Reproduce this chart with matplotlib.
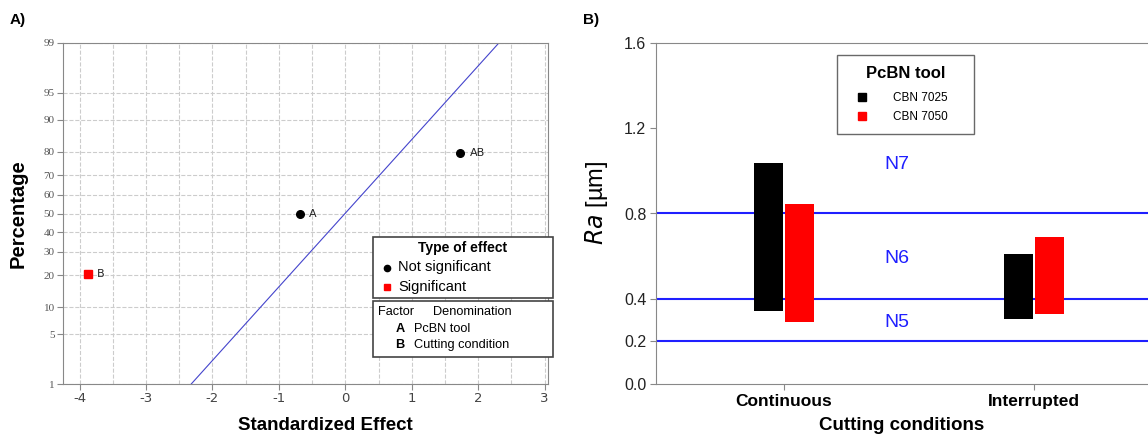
import numpy as np
from statistics import NormalDist
from matplotlib import pyplot as plt
from matplotlib.lines import Line2D
from matplotlib.patches import Rectangle

# ---- panel A data (normal probability plot of effects)
effect_names = ["B", "A", "AB"]
effect_values = [-3.88, -0.69, 1.73]
effect_pct = [20.6, 50.0, 79.4]
effect_significant = [True, False, False]
fit_x = [-2.32, 2.31]
fit_pct = [1, 99]
pct_ticks = [1, 5, 10, 20, 30, 40, 50, 60, 70, 80, 90, 95, 99]
x_ticks_a = [-4, -3, -2, -1, 0, 1, 2, 3]

# ---- panel B data (Ra range per cutting condition)
conditions = ["Continuous", "Interrupted"]
tools = ["CBN 7025", "CBN 7050"]
ra_min = {"CBN 7025": [0.343, 0.305], "CBN 7050": [0.289, 0.329]}
ra_max = {"CBN 7025": [1.036, 0.609], "CBN 7050": [0.846, 0.689]}
tool_colors = {"CBN 7025": "black", "CBN 7050": "#ff0000"}
ra_limits = [0.2, 0.4, 0.8]
class_names = ["N5", "N6", "N7"]
class_y = [0.29, 0.59, 1.03]
ra_ticks = [0.0, 0.2, 0.4, 0.8, 1.2, 1.6]

nd = NormalDist()
_inv = np.vectorize(nd.inv_cdf, otypes=[float])
_cdf = np.vectorize(nd.cdf, otypes=[float])


def pct_to_z(p):
    p = np.clip(np.asarray(p, dtype=float), 1e-9, 100 - 1e-9)
    return _inv(p / 100.0)


def z_to_pct(z):
    return _cdf(np.asarray(z, dtype=float)) * 100.0


fig = plt.figure(figsize=(11.48, 4.36), dpi=100)
W, H = 1148, 436


def fx(px):
    return px / W


def fy(py):
    return 1 - py / H


# ================= panel A
axA = fig.add_axes([fx(63), fy(384), fx(548) - fx(63), fy(43) - fy(384)])
axA.set_yscale("function", functions=(pct_to_z, z_to_pct))
axA.set_ylim(1, 99)
axA.set_xlim(-4.25, 3.05)

axA.set_xticks(np.arange(-4, 3.01, 0.5), minor=True)
axA.set_xticks(x_ticks_a)
axA.set_xticklabels([str(v) for v in x_ticks_a], fontsize=9.5, color="#444444",
                    family="DejaVu Sans")
axA.set_yticks(pct_ticks)
axA.set_yticklabels([str(v) for v in pct_ticks], fontsize=8, color="#555555",
                    family="Liberation Serif")
axA.yaxis.set_minor_locator(plt.NullLocator())
axA.tick_params(axis="both", which="major", length=4, color="#888888", pad=2)
axA.tick_params(axis="x", which="minor", length=0)
axA.grid(True, which="both", axis="x", linestyle="--", color="#cccccc", lw=0.8)
axA.grid(True, which="major", axis="y", linestyle="--", color="#cccccc", lw=0.8)
axA.set_axisbelow(True)
for s in axA.spines.values():
    s.set_color("#888888")

axA.plot(fit_x, fit_pct, color="#4444cc", lw=0.8)
for name, xv, pv, sig in zip(effect_names, effect_values, effect_pct, effect_significant):
    if sig:
        axA.plot(xv, pv, "s", color="#ff0000", ms=6)
    else:
        axA.plot(xv, pv, "o", color="black", ms=5.5)
    axA.annotate(name, (xv, pv), xytext=(7, 0), textcoords="offset points",
                 va="center", ha="left", fontsize=8, color="#222222")

axA.set_xlabel("Standardized Effect", fontsize=13.5, fontweight="bold",
               family="Liberation Sans")
axA.xaxis.set_label_coords(0.54, -0.098)
axA.set_ylabel("Percentage", fontsize=14.5, fontweight="bold", family="Liberation Sans")
axA.yaxis.set_label_coords(-0.072, 0.5)

# legend boxes of panel A
fig.patches.append(Rectangle((fx(373), fy(298)), fx(553) - fx(373), fy(237) - fy(298),
                             transform=fig.transFigure, fill=True, facecolor="white",
                             edgecolor="#444444", lw=1.2))
fig.patches.append(Rectangle((fx(373), fy(357)), fx(553) - fx(373), fy(301) - fy(357),
                             transform=fig.transFigure, fill=True, facecolor="white",
                             edgecolor="#444444", lw=1.2))
fig.text(fx(463), fy(248), "Type of effect", ha="center", va="center",
         fontsize=10, fontweight="bold", family="Liberation Sans")
fig.add_artist(Line2D([fx(387)], [fy(268)], marker="o", color="black", ms=4.5,
                      transform=fig.transFigure))
fig.text(fx(398), fy(267), "Not significant", ha="left", va="center",
         fontsize=10.5, family="Liberation Sans")
fig.add_artist(Line2D([fx(387)], [fy(287)], marker="s", color="#ff0000", ms=5,
                      transform=fig.transFigure))
fig.text(fx(398), fy(287), "Significant", ha="left", va="center",
         fontsize=10.5, family="Liberation Sans")
fig.text(fx(378), fy(312), "Factor", ha="left", va="center", fontsize=9.2,
         family="Liberation Sans")
fig.text(fx(433), fy(312), "Denomination", ha="left", va="center", fontsize=9.2,
         family="Liberation Sans")
fig.text(fx(400), fy(329), "A", ha="center", va="center", fontsize=9.2,
         fontweight="bold", family="Liberation Sans")
fig.text(fx(414), fy(329), "PcBN tool", ha="left", va="center", fontsize=9.2,
         family="Liberation Sans")
fig.text(fx(400), fy(345), "B", ha="center", va="center", fontsize=9.2,
         fontweight="bold", family="Liberation Sans")
fig.text(fx(414), fy(345), "Cutting condition", ha="left", va="center", fontsize=9.2,
         family="Liberation Sans")

fig.text(fx(10), fy(20), "A)", ha="left", va="center", fontsize=11, fontweight="bold",
         family="Liberation Sans")

# ================= panel B
axB = fig.add_axes([fx(656), fy(384), 1 - fx(656), fy(43) - fy(384)])
pos = np.arange(len(conditions))
bar_w = 0.115
offsets = {"CBN 7025": -0.062, "CBN 7050": 0.062}
for t in tools:
    lo = np.array(ra_min[t])
    hi = np.array(ra_max[t])
    axB.bar(pos + offsets[t], hi - lo, bottom=lo, width=bar_w,
            color=tool_colors[t], zorder=3, label=t)

for yv in ra_limits:
    axB.axhline(yv, color="#1f1fff", lw=1.5, zorder=2)
for nm, yv in zip(class_names, class_y):
    axB.text(0.45, yv, nm, color="#1f1fff", fontsize=14, ha="center", va="center",
             family="Liberation Sans")

axB.set_ylim(0, 1.6)
axB.set_xlim(-0.512, 1.456)
axB.set_yticks(ra_ticks)
axB.set_yticklabels([f"{v:.1f}" for v in ra_ticks], fontsize=11.5, color="#222222",
                    family="Liberation Sans")
axB.set_xticks(pos)
axB.set_xticklabels(conditions, fontsize=12.5, fontweight="bold", family="Liberation Sans")
axB.tick_params(axis="both", length=4, color="#888888", pad=3)
axB.spines["right"].set_visible(False)
for s in ["left", "bottom", "top"]:
    axB.spines[s].set_color("#888888")
axB.set_xlabel("Cutting conditions", fontsize=13.5, fontweight="bold",
               family="Liberation Sans", labelpad=6)
axB.set_ylabel(r"$\it{Ra}$ [µm]", fontsize=17, family="Liberation Sans")
axB.yaxis.set_label_coords(-0.093, 0.53)

handles = [Line2D([], [], marker="s", ls="none", color=tool_colors[t], ms=5.5) for t in tools]
leg = axB.legend(handles, tools, title="PcBN tool", loc="upper left",
                 bbox_to_anchor=(0.368, 0.739, 0.278, 0.227), mode="expand",
                 frameon=True, fancybox=False,
                 prop={"family": "Liberation Sans", "size": 8.5},
                 title_fontproperties={"family": "Liberation Sans", "size": 12,
                                       "weight": "bold"},
                 borderpad=0.95, handletextpad=1.4, labelspacing=0.6,
                 borderaxespad=0, handlelength=2.4)
leg.get_frame().set_edgecolor("#444444")
leg.get_frame().set_linewidth(1.0)
leg._legend_box.sep = 8
leg._legend_box.align = "center"

fig.text(fx(583), fy(20), "B)", ha="left", va="center", fontsize=11, fontweight="bold",
         family="Liberation Sans")

fig.savefig("out.png", dpi=100)
